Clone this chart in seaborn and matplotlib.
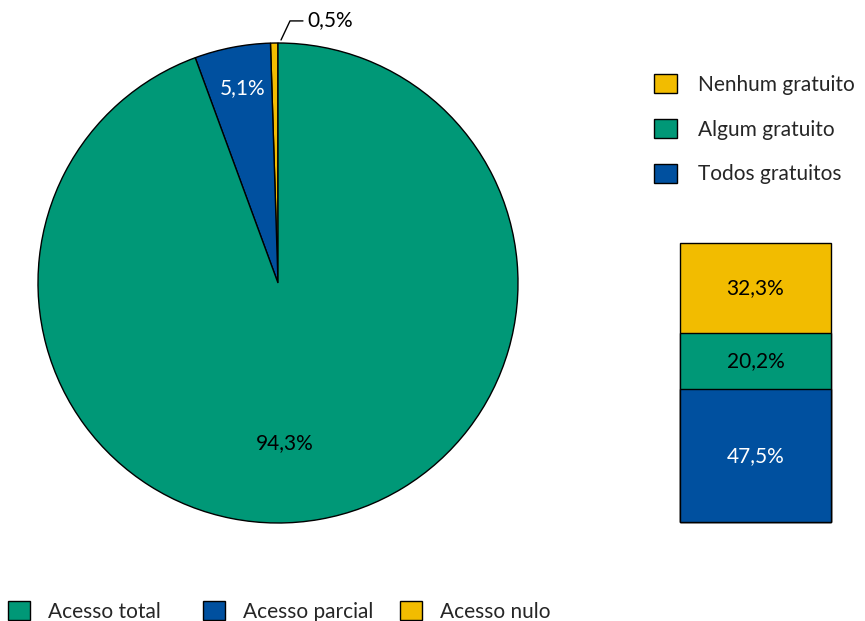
import numpy as np
import matplotlib
matplotlib.use("Agg")
import matplotlib.pyplot as plt
from matplotlib.patches import Patch
import seaborn as sns

# ---- data ----
pie_labels = ["Acesso nulo", "Acesso parcial", "Acesso total"]
pie_values = [0.5, 5.1, 94.3]
pie_texts = ["0,5%", "5,1%", "94,3%"]

bar_labels = ["Todos gratuitos", "Algum gratuito", "Nenhum gratuito"]
bar_values = [47.5, 20.2, 32.3]
bar_texts = ["47,5%", "20,2%", "32,3%"]

GREEN = "#009877"
BLUE = "#00509F"
YELLOW = "#F2BC00"

sns.set_theme(style="white")
plt.rcParams["font.family"] = ["Lato", "DejaVu Sans"]
FS = 15

W, H = 865, 621
fig = plt.figure(figsize=(W / 100, H / 100), dpi=100)
fig.patch.set_facecolor("white")


def px_axes(x0, y0, x1, y1):
    return fig.add_axes([x0 / W, (H - y1) / H, (x1 - x0) / W, (y1 - y0) / H])


# ---- pie ----
ax = px_axes(38, 43, 518, 523)
pie_colors = [YELLOW, BLUE, GREEN]
wedges, _ = ax.pie(pie_values, colors=pie_colors, startangle=90, counterclock=True,
                   wedgeprops=dict(edgecolor="black", linewidth=1.0))
ax.set_xlim(-1, 1)
ax.set_ylim(-1, 1)
ax.set_aspect("equal")
ax.axis("off")

ax.text(-0.146, 0.812, pie_texts[1], color="white", fontsize=FS, ha="center", va="center")
ax.text(0.03, -0.667, pie_texts[2], color="black", fontsize=FS, ha="center", va="center")
ax.plot([0.0125, 0.05, 0.104], [1.0125, 1.092, 1.092], color="black", lw=1, clip_on=False)
ax.text(0.121, 1.096, pie_texts[0], color="black", fontsize=FS, ha="left", va="center",
        clip_on=False)

# ---- stacked bar ----
bx = px_axes(680, 243, 831, 522)
cum = np.cumsum(bar_values)
bar_colors = [BLUE, GREEN, YELLOW]
for i in reversed(range(3)):
    sns.barplot(x=["x"], y=[cum[i]], color=bar_colors[i], width=1.0,
                edgecolor="black", linewidth=1.0, ax=bx, saturation=1)
for p in bx.patches:
    p.set_clip_on(False)
bx.set_xlim(-0.5, 0.5)
bx.set_ylim(0, cum[-1])
bx.axis("off")
starts = cum - np.array(bar_values)
txt_colors = ["white", "black", "black"]
for i in range(3):
    bx.text(0, starts[i] + bar_values[i] / 2, bar_texts[i], ha="center", va="center",
            fontsize=FS, color=txt_colors[i])

# ---- legends ----
h_right = [Patch(facecolor=c, edgecolor="black", linewidth=1.0) for c in [YELLOW, GREEN, BLUE]]
fig.legend(h_right, ["Nenhum gratuito", "Algum gratuito", "Todos gratuitos"],
           loc="upper left", bbox_to_anchor=(646 / W, 1 - 66 / H), frameon=False,
           fontsize=FS, handlelength=1.1, handleheight=1.0, handletextpad=1.0,
           labelspacing=1.17, borderaxespad=0, borderpad=0.4)

bot_labels = ["Acesso total", "Acesso parcial", "Acesso nulo"]
bot_colors = [GREEN, BLUE, YELLOW]
bot_x = [0, 195, 392]
for lab, col, x0 in zip(bot_labels, bot_colors, bot_x):
    fig.legend([Patch(facecolor=col, edgecolor="black", linewidth=1.0)], [lab],
               loc="upper left", bbox_to_anchor=(x0 / W, 1 - 593 / H), frameon=False,
               fontsize=FS, handlelength=1.05, handleheight=1.0, handletextpad=0.87,
               borderaxespad=0, borderpad=0.4)

fig.savefig("out.png", dpi=100, facecolor="white")
